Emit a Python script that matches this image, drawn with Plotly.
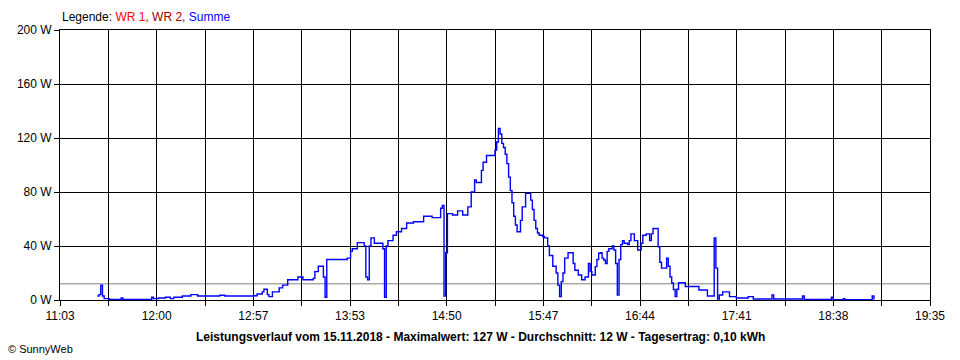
import plotly.graph_objects as go

# ---- data ----
times = [
    "11:25", "11:26", "11:27", "11:28", "11:29", "11:32", "11:39", "11:40", "11:57", "11:58",
    "12:01", "12:05", "12:08", "12:10", "12:15", "12:20", "12:24", "12:37", "12:40", "12:57",
    "12:59", "13:02", "13:03", "13:05", "13:06", "13:08", "13:11", "13:12", "13:14", "13:16",
    "13:17", "13:22", "13:23", "13:25", "13:26", "13:32", "13:33", "13:35", "13:37", "13:38",
    "13:39", "13:40", "13:48", "13:52", "13:54", "13:55", "13:58", "14:01", "14:02", "14:03",
    "14:04", "14:05", "14:06", "14:07", "14:08", "14:12", "14:13", "14:14", "14:15", "14:16",
    "14:18", "14:19", "14:21", "14:23", "14:24", "14:27", "14:29", "14:31", "14:35", "14:37",
    "14:41", "14:42", "14:45", "14:47", "14:48", "14:49", "14:50", "14:51", "14:54", "14:57",
    "15:00", "15:02", "15:03", "15:05", "15:07", "15:08", "15:10", "15:11", "15:12", "15:14",
    "15:18", "15:19", "15:20", "15:21", "15:22", "15:23", "15:24", "15:25", "15:26", "15:27",
    "15:28", "15:29", "15:30", "15:31", "15:32", "15:33", "15:34", "15:35", "15:37", "15:38",
    "15:40", "15:41", "15:42", "15:43", "15:44", "15:45", "15:47", "15:48", "15:50", "15:51",
    "15:53", "15:55", "15:56", "15:57", "15:58", "15:59", "16:00", "16:02", "16:04", "16:05",
    "16:06", "16:08", "16:10", "16:11", "16:12", "16:14", "16:15", "16:16", "16:18", "16:19",
    "16:20", "16:21", "16:22", "16:23", "16:24", "16:25", "16:26", "16:28", "16:29", "16:30",
    "16:31", "16:32", "16:33", "16:34", "16:35", "16:37", "16:38", "16:39", "16:40", "16:41",
    "16:43", "16:44", "16:45", "16:46", "16:48", "16:50", "16:51", "16:52", "16:54", "16:55",
    "16:56", "16:57", "16:59", "17:00", "17:01", "17:02", "17:03", "17:04", "17:05", "17:06",
    "17:07", "17:10", "17:11", "17:18", "17:19", "17:21", "17:24", "17:27", "17:28", "17:29",
    "17:30", "17:31", "17:33", "17:36", "17:37", "17:40", "17:41", "17:47", "17:48", "17:50",
    "17:51", "18:02", "18:03", "18:20", "18:21", "18:37", "18:38", "18:44", "18:45", "19:01",
    "19:02",
]
watts = [
    3, 4, 11, 3, 1, 0.5, 1.5, 0.5, 2, 1,
    1.5, 2, 1, 2, 3, 4, 3, 3.5, 3, 3.2,
    4.5, 6, 8, 4, 2.5, 6, 6, 9, 11, 11,
    15, 15, 17, 17, 15, 16, 21, 25, 25, 17,
    2, 30, 30, 31, 36, 38, 42.5, 42.5, 40, 17,
    15, 40, 46, 46, 42, 42, 38, 2, 40, 44,
    44, 48, 50.6, 50.6, 53, 57, 57, 58, 58, 62,
    62, 61, 61, 68, 70, 3, 35, 64, 63, 66,
    63, 63, 69, 80, 89, 87, 87, 96, 102, 107,
    107, 111, 117, 127, 123, 116, 113, 108, 101, 91,
    81, 72, 62, 55.6, 50.6, 50.6, 59, 69, 79, 79,
    74, 67, 59, 53, 49.6, 48, 47, 46, 40, 33,
    25, 20, 11, 2.5, 13.6, 20, 31, 35, 35, 27,
    22, 18.5, 15, 15, 17, 27, 21, 18.5, 24.7, 30,
    34.6, 35, 31, 29.6, 27, 36, 38, 40, 37, 27,
    3.7, 30, 41, 44, 42, 41, 44, 49, 49, 44,
    37, 37, 42, 48, 49, 44, 49, 53, 53, 39.5,
    28, 23.6, 23.6, 31, 25, 17, 12.6, 7.8, 2.5, 8,
    12.8, 12.8, 10, 10, 7.4, 7.4, 3, 3, 46, 23.6,
    0.7, 3.7, 6, 6, 2.5, 2.5, 1.5, 1.5, 2.5, 2.5,
    0.7, 3.7, 0.7, 3, 0.5, 2, 0.3, 1, 0.3, 3,
    0.3,
]
tick_labels = ["11:03", "12:00", "12:57", "13:53", "14:50",
               "15:47", "16:44", "17:41", "18:38", "19:35"]
y_ticks = [0, 40, 80, 120, 160, 200]
average_w = 12
max_w = 127
energy_kwh = "0,10"
date_str = "15.11.2018"


def to_min(s):
    h, m = s.split(":")
    return int(h) * 60 + int(m)


xs = [to_min(t) for t in times]
start = to_min(tick_labels[0])
end = to_min(tick_labels[-1])
n_int = (len(tick_labels) - 1) * 2
step = (end - start) / n_int
tickvals = [start + i * step for i in range(n_int + 1)]
ticktext = [tick_labels[i // 2] if i % 2 == 0 else "" for i in range(n_int + 1)]

FONT = "Liberation Sans, Arial, sans-serif"

fig = go.Figure()
fig.add_trace(go.Scatter(
    x=xs, y=watts, mode="lines",
    line=dict(color="#0000FF", width=1.4, shape="hv"),
    hoverinfo="skip", showlegend=False,
))

fig.add_shape(type="line", xref="paper", x0=0, x1=1, yref="y",
              y0=average_w, y1=average_w,
              line=dict(color="#808080", width=1), layer="below")

axis_common = dict(
    showgrid=True, gridcolor="black", gridwidth=1,
    showline=True, linecolor="black", linewidth=1, mirror=True,
    ticks="outside", ticklen=5, tickcolor="black", tickwidth=1,
    tickfont=dict(family=FONT, size=12, color="black"),
    zeroline=False, layer="below traces", fixedrange=True,
)

fig.update_layout(
    width=960, height=360,
    margin=dict(l=60, r=30, t=30, b=60),
    paper_bgcolor="white", plot_bgcolor="white",
    font=dict(family=FONT, size=12, color="black"),
    hovermode=False,
    xaxis=dict(range=[start, end], tickvals=tickvals, ticktext=ticktext, **axis_common),
    yaxis=dict(range=[0, 200], tickvals=y_ticks,
               ticktext=[f"{v} W" for v in y_ticks], **axis_common),
    annotations=[
        dict(xref="paper", yref="paper", x=0, y=(300 - 17) / 270,
             xanchor="left", yanchor="middle", showarrow=False,
             text="Legende: <span style='color:#FF0000'>WR 1,</span> "
                  "<span style='color:#A00000'>WR 2,</span> "
                  "<span style='color:#0000FF'>Summe</span>",
             font=dict(family=FONT, size=12, color="black")),
        dict(xref="paper", yref="paper", x=(480 - 60) / 870, y=(300 - 337) / 270,
             xanchor="center", yanchor="middle", showarrow=False,
             text=f"<b>Leistungsverlauf vom {date_str} - Maximalwert: {max_w} W - "
                  f"Durchschnitt: {average_w} W - Tagesertrag: {energy_kwh} kWh</b>",
             font=dict(family=FONT, size=12, color="black")),
        dict(xref="paper", yref="paper", x=(6 - 60) / 870, y=(300 - 349) / 270,
             xanchor="left", yanchor="middle", showarrow=False,
             text="© SunnyWeb",
             font=dict(family=FONT, size=11, color="black")),
    ],
)

fig.write_html(
    "out.html",
    config={"displayModeBar": False, "staticPlot": True},
    post_script="document.body.style.margin='0';document.body.style.overflow='hidden';",
)
